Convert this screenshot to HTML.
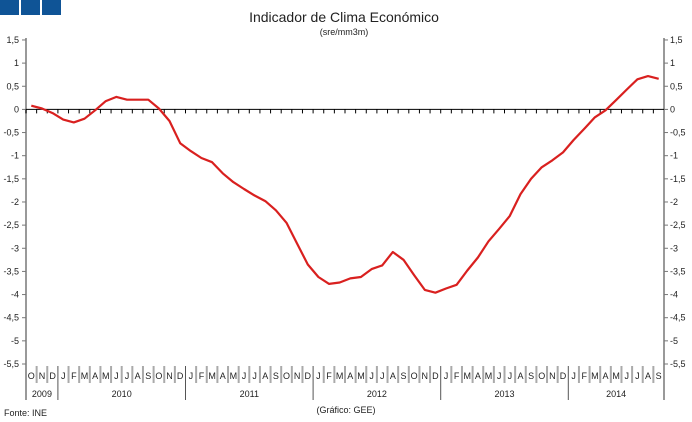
<!DOCTYPE html>
<html><head><meta charset="utf-8"><style>
body{margin:0;background:#fff;width:692px;height:422px;overflow:hidden}
svg{display:block;font-family:"Liberation Sans",Arial,sans-serif}
</style></head><body>
<svg id="s" width="692" height="422" xmlns="http://www.w3.org/2000/svg">
<rect x="0" y="0" width="19" height="15" fill="#0f5496"/>
<rect x="21" y="0" width="19" height="15" fill="#0f5496"/>
<rect x="42" y="0" width="19" height="15" fill="#0f5496"/>
<text x="344" y="22" font-size="14" text-anchor="middle" fill="#222">Indicador de Clima Económico</text>
<text x="344" y="35" font-size="9" text-anchor="middle" fill="#222">(sre/mm3m)</text>
<text x="4" y="416" font-size="9" fill="#222">Fonte: INE</text>
<text x="346" y="413" font-size="9" text-anchor="middle" fill="#222">(Gráfico: GEE)</text>
<g id="g"></g>
</svg>
<script>
var g=document.getElementById('g'),NS='http://www.w3.org/2000/svg';
function el(t,a,txt){var e=document.createElementNS(NS,t);for(var k in a)e.setAttribute(k,a[k]);if(txt!=null)e.textContent=txt;g.appendChild(e);return e;}
var L=26,R=664,Y0=109.4,S=46.29,W=(R-L)/60;
function Y(v){return Y0-v*S;}
el('line',{x1:L,y1:38,x2:L,y2:366,stroke:'#999','stroke-width':2});
el('line',{x1:R,y1:38,x2:R,y2:400,stroke:'#999','stroke-width':2});
for(var v=1.5;v>=-5.5;v-=0.5){var y=Y(v),t=(Math.round(v*10)/10).toString().replace('.',',');
el('line',{x1:L-4,y1:y,x2:L,y2:y,stroke:'#777'});el('line',{x1:R,y1:y,x2:R+4,y2:y,stroke:'#777'});
el('text',{x:L-7,y:y+3,'font-size':9,'text-anchor':'end',fill:'#222'},t);
el('text',{x:R+6,y:y+3,'font-size':9,fill:'#222'},t);}
el('line',{x1:L,y1:Y0,x2:R,y2:Y0,stroke:'#000'});
var m='ONDJFMAMJJAS';
for(var i=0;i<60;i++){var x=L+W*i;el('line',{x1:x,y1:Y0,x2:x,y2:Y0+4,stroke:'#000'});
el('text',{x:x+W/2,y:379,'font-size':9,'text-anchor':'middle',fill:'#222'},m[i%12]);
if(i>0){var yb=(i%12==3);el('line',{x1:x,y1:366,x2:x,y2:yb?400:383,stroke:yb?'#555':'#aaa','stroke-width':yb?1:2});}}
el('line',{x1:L,y1:366,x2:L,y2:400,stroke:'#999','stroke-width':2});
var yrs=[[2009,0,3],[2010,3,15],[2011,15,27],[2012,27,39],[2013,39,51],[2014,51,60]];
yrs.forEach(function(a){el('text',{x:L+W*(a[1]+a[2])/2,y:397,'font-size':9,'text-anchor':'middle',fill:'#222'},a[0]);});
var d=[0.08,0.02,-0.08,-0.22,-0.28,-0.2,-0.02,0.18,0.27,0.21,0.21,0.21,0.02,-0.25,-0.73,-0.9,-1.05,-1.14,-1.38,-1.57,-1.72,-1.86,-1.98,-2.18,-2.45,-2.9,-3.35,-3.62,-3.77,-3.74,-3.65,-3.62,-3.45,-3.37,-3.08,-3.25,-3.58,-3.9,-3.96,-3.87,-3.79,-3.48,-3.2,-2.85,-2.58,-2.3,-1.83,-1.5,-1.25,-1.1,-0.93,-0.66,-0.42,-0.17,-0.02,0.2,0.43,0.65,0.72,0.66];
var p='';d.forEach(function(v,i){p+=(i?'L':'M')+(L+W*(i+0.5)).toFixed(1)+' '+Y(v).toFixed(1);});
el('path',{d:p,fill:'none',stroke:'#d9201f','stroke-width':2.2,'stroke-linejoin':'round'});
</script>
</body></html>
